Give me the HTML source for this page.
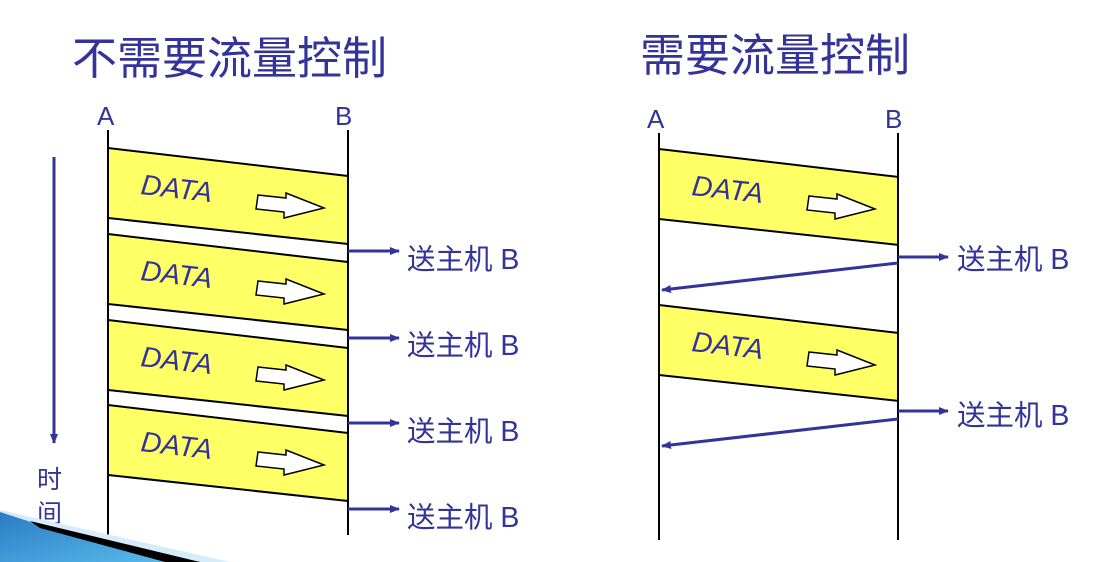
<!DOCTYPE html>
<html><head><meta charset="utf-8"><style>
html,body{margin:0;padding:0;background:#fff;}
svg{display:block;}
text{font-family:"Liberation Sans","Noto Sans CJK SC",sans-serif;fill:#333399;}
</style></head><body>
<svg width="1101" height="562" viewBox="0 0 1101 562" xmlns="http://www.w3.org/2000/svg">
<defs>
<marker id="ah" markerWidth="10" markerHeight="8" refX="9" refY="4" orient="auto" markerUnits="userSpaceOnUse"><path d="M0,0 L10,4 L0,8 Z" fill="#333399"/></marker>
<linearGradient id="bg" x1="0" y1="0" x2="1" y2="1"><stop offset="0" stop-color="#2a7cc4"/><stop offset="1" stop-color="#5ab8ea"/></linearGradient>
<g id="band">
<polygon points="0,0 240,28 240,96 0,70" fill="#ffff66"/>
<line x1="0" y1="0" x2="240" y2="28" stroke="#000" stroke-width="2"/>
<line x1="0" y1="70" x2="240" y2="96" stroke="#000" stroke-width="2"/>
<text x="32" y="46" font-size="28.5" font-style="italic" transform="rotate(6.5 32 46)">DATA</text>
<polygon points="150,47 178,50 178,45 216,60 176,70 176,64 148,61" fill="#fff" stroke="#000" stroke-width="1.5"/>
</g>
</defs>
<text x="72" y="74" font-size="45">不需要流量控制</text>
<text x="640" y="71" font-size="45">需要流量控制</text>
<!-- left -->
<text x="97" y="125" font-size="26">A</text>
<text x="335" y="125" font-size="26">B</text>
<use href="#band" x="108" y="148"/>
<use href="#band" x="108" y="234"/>
<use href="#band" x="108" y="320"/>
<use href="#band" x="108" y="405"/>
<line x1="108" y1="130" x2="108" y2="537" stroke="#000" stroke-width="2"/>
<line x1="348" y1="130" x2="348" y2="535" stroke="#000" stroke-width="2"/>
<g stroke="#333399" stroke-width="3" marker-end="url(#ah)">
<line x1="348" y1="251" x2="399" y2="251"/>
<line x1="348" y1="338" x2="399" y2="338"/>
<line x1="348" y1="423" x2="399" y2="423"/>
<line x1="348" y1="509" x2="399" y2="509"/>
</g>
<g font-size="28.5">
<text x="407" y="269">送主机 B</text>
<text x="407" y="355">送主机 B</text>
<text x="407" y="441">送主机 B</text>
<text x="407" y="527">送主机 B</text>
</g>
<line x1="54" y1="157" x2="54" y2="443" stroke="#333399" stroke-width="3" marker-end="url(#ah)"/>
<text x="37" y="488" font-size="25">时</text>
<text x="37" y="522" font-size="25">间</text>
<!-- right -->
<text x="647" y="128" font-size="26">A</text>
<text x="885" y="128" font-size="26">B</text>
<use href="#band" x="659" y="149"/>
<use href="#band" x="659" y="305"/>
<line x1="659" y1="133" x2="659" y2="540" stroke="#000" stroke-width="2"/>
<line x1="898" y1="133" x2="898" y2="540" stroke="#000" stroke-width="2"/>
<g stroke="#333399" stroke-width="3" marker-end="url(#ah)">
<line x1="898" y1="257" x2="948" y2="257"/>
<line x1="898" y1="411" x2="948" y2="411"/>
<line x1="898" y1="263" x2="662" y2="290"/>
<line x1="898" y1="419" x2="662" y2="446"/>
</g>
<g font-size="28.5">
<text x="957" y="269">送主机 B</text>
<text x="957" y="425">送主机 B</text>
</g>
<!-- corner deco -->
<polygon points="0,510 0,562 230,562" fill="#d6ecfa"/>
<polygon points="0,512 0,562 165,562 40,525" fill="url(#bg)"/>
<polygon points="30,521 200,562 165,562 40,528" fill="#000"/>
</svg>
</body></html>
